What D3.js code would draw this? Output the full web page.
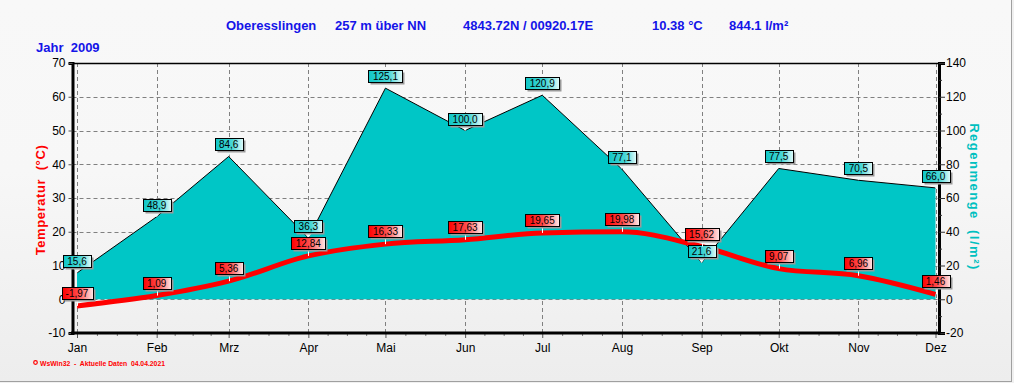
<!DOCTYPE html>
<html><head><meta charset="utf-8">
<script src="https://cdn.jsdelivr.net/npm/d3@7"></script>
<style>
html,body{margin:0;padding:0;background:#f0f0f0;}
svg{display:block;font-family:"Liberation Sans",Arial,sans-serif;}
</style></head>
<body>
<svg id="chart" width="1014" height="383"></svg>
<script>
// ---- data ----
const months = ["Jan","Feb","Mrz","Apr","Mai","Jun","Jul","Aug","Sep","Okt","Nov","Dez"];
const rain = [15.6, 48.9, 84.6, 36.3, 125.1, 100.0, 120.9, 77.1, 21.6, 77.5, 70.5, 66.0];
const temp = [-1.97, 1.09, 5.36, 12.84, 16.33, 17.63, 19.65, 19.98, 15.62, 9.07, 6.96, 1.46];
const tempTicks = [-10, 0, 10, 20, 30, 40, 50, 60, 70];
const rainTicks = [-20, 0, 20, 40, 60, 80, 100, 120, 140];
const rainMinor = [-10, 10, 30, 50, 70, 90, 110, 130];
const titleParts = ["Oberesslingen", "257 m über NN", "4843.72N / 00920.17E", "10.38 °C", "844.1 l/m²"];
const yearLabel = "Jahr  2009";
const leftTitle = "Temperatur  (°C)";
const rightTitle = "Regenmenge  (l/m²)";
const footer = "WsWin32  -  Aktuelle Daten  04.04.2021";

const dates = months.map((m, i) => new Date(2009, i, 1));

const svg = d3.select("#chart");
const defs = svg.append("defs");

// background
const bg = defs.append("linearGradient").attr("id","bg").attr("x1",0).attr("y1",0).attr("x2",0).attr("y2",1);
bg.append("stop").attr("offset","0").attr("stop-color","#f8f8f8");
bg.append("stop").attr("offset","0.45").attr("stop-color","#f7f7f7");
bg.append("stop").attr("offset","1").attr("stop-color","#ededed");
svg.append("rect").attr("x",0).attr("y",0).attr("width",1011).attr("height",381).attr("fill","url(#bg)");
svg.append("line").attr("x1",1011.5).attr("x2",1011.5).attr("y1",0).attr("y2",382).attr("stroke","#a0a0a0");
svg.append("line").attr("x1",0).attr("x2",1012).attr("y1",381.5).attr("y2",381.5).attr("stroke","#a0a0a0");

const gR = defs.append("linearGradient").attr("id","gRain");
gR.append("stop").attr("offset","0").attr("stop-color","#10c6c6");
gR.append("stop").attr("offset","0.6").attr("stop-color","#48d6d6");
gR.append("stop").attr("offset","1").attr("stop-color","#e4fbfb");
const gT = defs.append("linearGradient").attr("id","gTemp");
gT.append("stop").attr("offset","0").attr("stop-color","#ff0000");
gT.append("stop").attr("offset","0.5").attr("stop-color","#ff4848");
gT.append("stop").attr("offset","1").attr("stop-color","#ffeaea");

// scales
const x = d3.scaleTime().domain([dates[0], dates[11]]).range([77, 935.5]);
const yT = d3.scaleLinear().domain([-10, 70]).range([333, 63]);
const yR = d3.scaleLinear().domain([-20, 140]).range([333, 63]);
const L = 72.5, R = 939, T = 63, B = 333;

// title
const titleX = [226, 335, 463, 652, 729];
svg.selectAll("text.title").data(titleParts).join("text")
  .attr("class","title").attr("x",(d,i)=>titleX[i]).attr("y",30)
  .attr("font-size",13).attr("font-weight","bold").attr("fill","#1414e8").text(d=>d);
svg.append("text").attr("x",36).attr("y",52).attr("font-size",13).attr("font-weight","bold")
  .attr("fill","#1414e8").attr("xml:space","preserve").style("white-space","pre").text(yearLabel);

// grid
const grid = svg.append("g").attr("stroke","#808080").attr("stroke-dasharray","4,3").attr("stroke-width",1);
grid.selectAll("line.h").data(tempTicks.filter(d => d > -10 && d < 70)).join("line")
  .attr("x1",L).attr("x2",R).attr("y1",d=>Math.round(yT(d))+0.5).attr("y2",d=>Math.round(yT(d))+0.5);
grid.selectAll("line.v").data(dates).join("line")
  .attr("x1",d=>Math.round(x(d))+0.5).attr("x2",d=>Math.round(x(d))+0.5).attr("y1",T).attr("y2",B);

// rain area
const area = d3.area().x((d,i)=>x(dates[i])).y0(yR(0)).y1(d=>yR(d));
svg.append("path").datum(rain).attr("d",area).attr("fill","#00c6c6");
const rline = d3.line().x((d,i)=>x(dates[i])).y(d=>yR(d));
svg.append("path").datum(rain).attr("d",rline).attr("fill","none").attr("stroke","#000").attr("stroke-width",1);

// temperature line
const tline = d3.line().x((d,i)=>x(dates[i])).y(d=>yT(d)).curve(d3.curveMonotoneX);
svg.append("path").datum(temp).attr("d",tline).attr("fill","none").attr("stroke","#ff0000").attr("stroke-width",5);

// frame
svg.append("line").attr("x1",L).attr("x2",R).attr("y1",T+0.5).attr("y2",T+0.5).attr("stroke","#000").attr("stroke-width",1.5);

// axes
const axL = svg.append("g").attr("transform",`translate(${L},0)`)
  .call(d3.axisLeft(yT).tickValues(tempTicks).tickSize(4).tickPadding(3).tickFormat(d=>d));
axL.select(".domain").attr("stroke","#000").attr("stroke-width",3);
axL.selectAll(".tick line").attr("stroke","#555");
axL.selectAll("text").attr("font-size",12).attr("fill","#000").attr("font-family","Liberation Sans, Arial, sans-serif");

const axR = svg.append("g").attr("transform",`translate(${R},0)`)
  .call(d3.axisRight(yR).tickValues(rainTicks).tickSize(6).tickPadding(1).tickFormat(d=>d));
axR.select(".domain").attr("stroke","#000").attr("stroke-width",3);
axR.selectAll(".tick line").attr("stroke","#333");
axR.selectAll("text").attr("font-size",12).attr("fill","#000").attr("font-family","Liberation Sans, Arial, sans-serif");
const axRm = svg.append("g").attr("transform",`translate(${R},0)`)
  .call(d3.axisRight(yR).tickValues(rainMinor).tickSize(3).tickFormat(""));
axRm.select(".domain").remove();
axRm.selectAll(".tick line").attr("stroke","#333");

// minor x ticks: quarter subdivisions of each month
const minorDates = [];
for (let i = 0; i < 11; i++) {
  const a = dates[i].getTime(), b = dates[i+1].getTime();
  for (let k = 1; k < 4; k++) minorDates.push(new Date(a + (b - a) * k / 4));
}
const axB = svg.append("g").attr("transform",`translate(0,${B})`)
  .call(d3.axisBottom(x).tickValues(dates).tickSize(5).tickPadding(5).tickFormat((d,i)=>months[i]));
axB.select(".domain").remove();
axB.selectAll(".tick line").attr("stroke","#555");
axB.selectAll("text").attr("font-size",12).attr("fill","#000").attr("font-family","Liberation Sans, Arial, sans-serif");
const axBm = svg.append("g").attr("transform",`translate(0,${B})`)
  .call(d3.axisBottom(x).tickValues(minorDates).tickSize(3).tickFormat(""));
axBm.select(".domain").remove();
axBm.selectAll(".tick line").attr("stroke","#777");
svg.append("line").attr("x1",L-1.5).attr("x2",R+1.5).attr("y1",B).attr("y2",B).attr("stroke","#000").attr("stroke-width",3);

// axis titles
svg.append("text").attr("transform","translate(40,200) rotate(-90)")
  .attr("text-anchor","middle").attr("dominant-baseline","central")
  .attr("font-size",13).attr("font-weight","bold").attr("fill","#ff0000")
  .attr("letter-spacing",0.6).style("white-space","pre").text(leftTitle);
svg.append("text").attr("transform","translate(974,197) rotate(90)")
  .attr("text-anchor","middle").attr("dominant-baseline","central")
  .attr("font-size",13).attr("font-weight","bold").attr("fill","#00c0c0")
  .attr("letter-spacing",1.5).style("white-space","pre").text(rightTitle);

// footer
svg.append("circle").attr("cx",35.5).attr("cy",362.5).attr("r",1.8).attr("fill","none").attr("stroke","#ff0000").attr("stroke-width",1.2);
svg.append("text").attr("x",40).attr("y",365.5).attr("font-size",7.5).attr("font-weight","bold")
  .attr("fill","#ff0000").style("white-space","pre").attr("textLength",125).attr("lengthAdjust","spacingAndGlyphs").text(footer);

// data labels
const fmt1 = d => d.toFixed(1).replace(".", ",");
const fmt2 = d => d.toFixed(2).replace(".", ",");
const labels = svg.append("g");
function addLabel(cx, py, txt, kind) {
  const g = labels.append("g");
  const bottom = Math.round(py) - (kind === "rain" ? 6 : 7);
  const top = bottom - 12;
  const shadow = g.append("rect");
  const box = g.append("rect");
  const t = g.append("text").attr("x", cx).attr("y", top + 9.8).attr("text-anchor","middle")
    .attr("font-size",10).attr("fill","#000").text(txt);
  const w = Math.ceil(t.node().getComputedTextLength()) + 8;
  const left = Math.round(cx - w / 2) + 0.5;
  shadow.attr("x", left + 2).attr("y", top + 0.5 + 2).attr("width", w).attr("height", 12).attr("fill","#9a9a9a");
  box.attr("x", left).attr("y", top + 0.5).attr("width", w).attr("height", 12)
    .attr("fill", kind === "rain" ? "url(#gRain)" : "url(#gTemp)").attr("stroke","#000").attr("stroke-width",1);
  if (kind === "rain") {
    g.insert("path", "rect").attr("d", `M${cx-4},${bottom+0.5}L${cx+4},${bottom+0.5}L${cx},${bottom+6}Z`).attr("fill","#eefafa");
  } else {
    g.insert("line", "rect").attr("x1", Math.round(cx)+0.5).attr("x2", Math.round(cx)+0.5)
      .attr("y1", bottom).attr("y2", py).attr("stroke","#ffffff").attr("stroke-width",1);
  }
}
rain.forEach((v, i) => addLabel(x(dates[i]), yR(v), fmt1(v), "rain"));
temp.forEach((v, i) => addLabel(x(dates[i]), yT(v), fmt2(v), "temp"));
</script>
</body></html>
